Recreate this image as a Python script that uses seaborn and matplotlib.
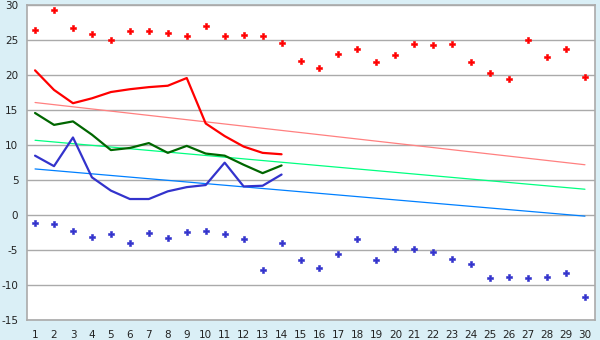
import matplotlib
matplotlib.use("Agg")
import matplotlib.pyplot as plt
import seaborn as sns
import numpy as np
import pandas as pd

days = list(range(1, 31))
days_obs = list(range(1, 15))

max_points = [26.4, 29.4, 26.7, 25.9, 25.0, 26.3, 26.3, 26.0, 25.6, 27.0,
              25.6, 25.7, 25.6, 24.6, 22.0, 21.0, 23.1, 23.7, 21.9, 22.9,
              24.4, 24.3, 24.4, 21.9, 20.3, 19.4, 25.0, 22.6, 23.7, 19.7]
min_points = [-1.1, -1.3, -2.3, -3.1, -2.7, -4.0, -2.6, -3.3, -2.4, -2.3,
              -2.7, -3.4, -7.9, -4.0, -6.4, -7.6, -5.6, -3.4, -6.4, -4.9,
              -4.9, -5.3, -6.3, -7.0, -9.0, -8.9, -9.0, -8.9, -8.3, -11.7]

max_line = [20.7, 17.9, 16.0, 16.7, 17.6, 18.0, 18.3, 18.5, 19.6, 13.1,
            11.3, 9.8, 8.9, 8.7]
mean_line = [14.6, 12.9, 13.4, 11.5, 9.3, 9.6, 10.3, 8.9, 9.9, 8.8,
             8.5, 7.2, 6.0, 7.1]
min_line = [8.5, 7.0, 11.1, 5.4, 3.5, 2.3, 2.3, 3.4, 4.0, 4.3,
            7.5, 4.1, 4.2, 5.8]

trend_max = [16.1, 7.2]
trend_mean = [10.7, 3.7]
trend_min = [6.6, -0.15]
trend_days = [1, 30]

yticks = list(range(-15, 31, 5))

sns.set_style("white")
plt.rcParams['font.family'] = ['DejaVu Sans']
plt.rcParams['axes.unicode_minus'] = False

bg = "#DAEFF6"
fig = plt.figure(figsize=(6, 3.4), dpi=100, facecolor=bg)
ax = fig.add_axes([0.0445, 0.0588, 0.9472, 0.9256])
ax.set_facecolor("white")

ax.set_xlim(0.56, 30.53)
ax.set_ylim(-15, 30)
ax.set_yticks(yticks)
ax.set_xticks(days)
ax.yaxis.grid(True, color="#AAAAAA", linewidth=1.0)
ax.set_axisbelow(True)

tr = pd.DataFrame({"d": trend_days, "a": trend_max, "b": trend_mean, "c": trend_min})
sns.lineplot(data=tr, x="d", y="a", ax=ax, color="#FF8080", linewidth=0.9)
sns.lineplot(data=tr, x="d", y="b", ax=ax, color="#00FF80", linewidth=0.9)
sns.lineplot(data=tr, x="d", y="c", ax=ax, color="#0080FF", linewidth=0.9)

obs = pd.DataFrame({"d": days_obs, "mx": max_line, "mn": mean_line, "lo": min_line})
sns.lineplot(data=obs, x="d", y="mx", ax=ax, color="#FF0000", linewidth=1.6)
sns.lineplot(data=obs, x="d", y="mn", ax=ax, color="#006600", linewidth=1.6)
sns.lineplot(data=obs, x="d", y="lo", ax=ax, color="#3333CC", linewidth=1.6)

pts = pd.DataFrame({"d": days, "hi": max_points, "lo": min_points})
sns.scatterplot(data=pts, x="d", y="hi", ax=ax, color="#FF0000", marker="P",
                s=20, linewidth=0.4, edgecolor="#FF0000")
sns.scatterplot(data=pts, x="d", y="lo", ax=ax, color="#3333CC", marker="P",
                s=20, linewidth=0.4, edgecolor="#3333CC")

ax.set_xlabel("")
ax.set_ylabel("")
for s in ax.spines.values():
    s.set_color("#AAAAAA")
    s.set_linewidth(1.2)
ax.tick_params(axis="both", which="both", direction="out", length=4,
               width=1, color="#333333", labelsize=7.5, labelcolor="#222222", pad=2)
ax.tick_params(axis="x", pad=3)

fig.savefig("out.png", dpi=100, facecolor=bg)
